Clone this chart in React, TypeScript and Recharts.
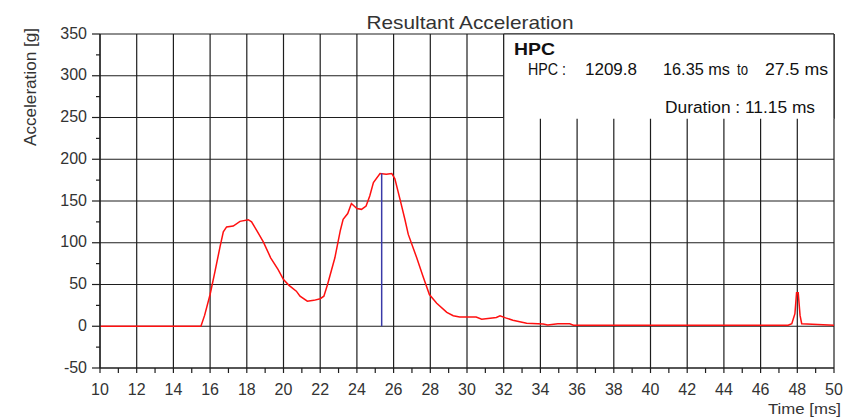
import React from 'react';
import { LineChart, Line, XAxis, YAxis, CartesianGrid, ReferenceArea, ReferenceLine } from 'recharts';

// ---- data ----
const times = [
  10, 15.5, 15.7, 16.0, 16.27, 16.54, 16.72, 16.9, 17.26, 17.63, 18.08, 18.26, 18.53, 18.9,
  19.3, 19.7, 20.0, 20.3, 20.7, 20.9, 21.3, 21.65, 22.0, 22.2, 22.4, 22.8, 23.1, 23.25, 23.5,
  23.7, 24.0, 24.25, 24.5, 24.7, 24.9, 25.26, 25.6, 25.9, 26.07, 26.35, 26.62, 26.8, 27.26,
  27.6, 27.95, 28.35, 28.9, 29.25, 29.6, 30.5, 30.8, 31.6, 31.8, 32.1, 32.5, 33.25, 34.15,
  34.4, 34.95, 35.6, 35.8, 47.5, 47.7, 47.87, 47.96, 48.05, 48.15, 48.24, 50,
];
const accel = [
  0, 0, 13, 38, 66, 95, 113, 119, 120, 125.6, 127.6, 125, 115, 101,
  82, 68, 56, 49, 42, 36, 30, 31, 33, 36, 50, 82, 115, 128, 135,
  147, 141, 140, 144, 156, 172, 183, 182, 183, 176.6, 152, 127.6, 110, 82,
  60, 38, 27.6, 16.6, 12.6, 11, 11, 8.5, 10.5, 12.6, 10, 7.3, 3.7, 2.8,
  1.6, 3, 3, 1.2, 1.2, 3, 15, 40, 40, 13, 3, 1.2,
];

const xMajorTicks = [10, 12, 14, 16, 18, 20, 22, 24, 26, 28, 30, 32, 34, 36, 38, 40, 42, 44, 46, 48, 50];
const xMinorTicks = [11, 13, 15, 17, 19, 21, 23, 25, 27, 29, 31, 33, 35, 37, 39, 41, 43, 45, 47, 49];
const yMajorTicks = [-50, 0, 50, 100, 150, 200, 250, 300, 350];
const yMinorTicks = [-25, 25, 75, 125, 175, 225, 275, 325];

const hpcMarkerTime = 25.35;
const hpcMarkerPeak = 183;
const hpcBox = { x1: 32, x2: 50, y1: 248.5, y2: 350 };

const titleText = 'Resultant Acceleration';
const yLabelText = 'Acceleration [g]';
const xLabelText = 'Time [ms]';
const hpcHeading = 'HPC';
const hpcLabel = 'HPC :';
const hpcValue = '1209.8';
const hpcStart = '16.35 ms';
const hpcTo = 'to';
const hpcEnd = '27.5 ms';
const hpcDuration = 'Duration : 11.15 ms';

const data = times.map((t, i) => ({ t, a: accel[i] }));
const xTicks = [...xMajorTicks, ...xMinorTicks].sort((a, b) => a - b);
const yTicks = [...yMajorTicks, ...yMinorTicks].sort((a, b) => a - b);

const FONT = "'Liberation Sans', Arial, Helvetica, sans-serif";
const GRID = '#1e1e1e';

const XTick = (props: any) => {
  const { x, y, payload } = props;
  const v = payload.value;
  const major = xMajorTicks.includes(v);
  return (
    <g>
      <line x1={x} x2={x} y1={y} y2={y + 5} stroke={GRID} strokeWidth={1.2} />
      {major && (
        <text x={x} y={y + 27} textAnchor="middle" fontSize={16} fill="#333" fontFamily={FONT}>
          {v}
        </text>
      )}
    </g>
  );
};

const YTick = (props: any) => {
  const { x, y, payload } = props;
  const v = payload.value;
  const major = yMajorTicks.includes(v);
  return (
    <g>
      <line x1={x - (major ? 8 : 4)} x2={x} y1={y} y2={y} stroke={GRID} strokeWidth={1.2} />
      {major && (
        <text x={x - 13} y={y + 4.5} textAnchor="end" fontSize={16} fill="#333" fontFamily={FONT}>
          {v}
        </text>
      )}
    </g>
  );
};

const YLabel = () => (
  <g>
    <text
      x={470}
      y={29}
      textAnchor="middle"
      fontSize={19}
      fill="#333"
      fontFamily={FONT}
      textLength={207}
      lengthAdjust="spacingAndGlyphs"
    >
      {titleText}
    </text>
    <text
      x={36}
      y={87}
      transform="rotate(-90 36 87)"
      textAnchor="middle"
      fontSize={16}
      fill="#333"
      fontFamily={FONT}
      textLength={118}
      lengthAdjust="spacingAndGlyphs"
    >
      {yLabelText}
    </text>
  </g>
);

const XLabel = () => (
  <text
    x={841}
    y={414}
    textAnchor="end"
    fontSize={15}
    fill="#333"
    fontFamily={FONT}
    textLength={73}
    lengthAdjust="spacingAndGlyphs"
  >
    {xLabelText}
  </text>
);

const BoxLabel = () => (
  <g fontFamily={FONT} fill="#111">
    <text x={514} y={54.5} fontSize={17} fontWeight="bold" textLength={41} lengthAdjust="spacingAndGlyphs">
      {hpcHeading}
    </text>
    <text x={528} y={75} fontSize={16} textLength={38} lengthAdjust="spacingAndGlyphs">{hpcLabel}</text>
    <text x={585} y={75} fontSize={16} textLength={52} lengthAdjust="spacingAndGlyphs">{hpcValue}</text>
    <text x={663} y={75} fontSize={16} textLength={67} lengthAdjust="spacingAndGlyphs">{hpcStart}</text>
    <text x={737} y={75} fontSize={16} textLength={11} lengthAdjust="spacingAndGlyphs">{hpcTo}</text>
    <text x={765} y={75} fontSize={16} textLength={63} lengthAdjust="spacingAndGlyphs">{hpcEnd}</text>
    <text x={665} y={113} fontSize={16} textLength={150} lengthAdjust="spacingAndGlyphs">{hpcDuration}</text>
  </g>
);

export default function App() {
  return (
    <div style={{ position: 'absolute', left: 0, top: 0, width: 845, height: 417, background: '#fff' }}>
      <LineChart width={845} height={417} data={data} margin={{ top: 34, right: 11, bottom: 0, left: 0 }}>
        <CartesianGrid
          stroke={GRID}
          strokeWidth={1.2}
          horizontalValues={yMajorTicks}
          verticalValues={xMajorTicks}
        />
        <XAxis
          dataKey="t"
          type="number"
          domain={[10, 50]}
          ticks={xTicks}
          interval={0}
          height={49}
          tickSize={0}
          tickMargin={0}
          tickLine={false}
          tick={<XTick />}
          axisLine={{ stroke: GRID, strokeWidth: 1.2 }}
          allowDataOverflow
          label={<XLabel />}
        />
        <YAxis
          type="number"
          domain={[-50, 350]}
          ticks={yTicks}
          interval={0}
          width={100}
          tickSize={0}
          tickMargin={0}
          tickLine={false}
          tick={<YTick />}
          axisLine={{ stroke: GRID, strokeWidth: 1.2 }}
          allowDataOverflow
          label={<YLabel />}
        />
        <ReferenceArea
          x1={hpcBox.x1}
          x2={hpcBox.x2}
          y1={hpcBox.y1}
          y2={hpcBox.y2}
          fill="#fff"
          fillOpacity={1}
          stroke="none"
          label={<BoxLabel />}
          ifOverflow="visible"
        />
        <ReferenceLine
          segment={[{ x: hpcBox.x1, y: hpcBox.y1 }, { x: hpcBox.x1, y: hpcBox.y2 }]}
          stroke={GRID}
          strokeWidth={1.2}
        />
        <ReferenceLine
          segment={[{ x: hpcBox.x1, y: hpcBox.y2 }, { x: hpcBox.x2, y: hpcBox.y2 }]}
          stroke={GRID}
          strokeWidth={1.2}
        />
        <ReferenceLine
          segment={[{ x: hpcBox.x2, y: hpcBox.y1 }, { x: hpcBox.x2, y: hpcBox.y2 }]}
          stroke={GRID}
          strokeWidth={1.2}
        />
        <Line
          dataKey="a"
          type="linear"
          stroke="#ff1010"
          strokeWidth={1.5}
          dot={false}
          activeDot={false}
          isAnimationActive={false}
        />
        <ReferenceLine
          segment={[{ x: hpcMarkerTime, y: 0 }, { x: hpcMarkerTime, y: hpcMarkerPeak }]}
          stroke="#3a3aa8"
          strokeWidth={1.5}
        />
      </LineChart>
    </div>
  );
}
